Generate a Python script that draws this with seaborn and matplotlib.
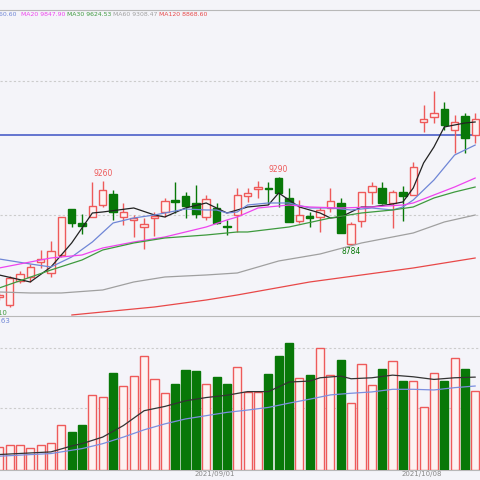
import numpy as np
import pandas as pd
import seaborn as sns
import matplotlib.pyplot as plt

# - Candles
opens = [8330, 8266, 8458, 8490, 8610, 8522, 8666, 9034, 8922, 8970, 9066, 9154, 8970, 8946, 8890, 8962,
         9010, 9106, 9138, 9082, 8970, 9042, 8898, 8986, 9138, 9194, 9202, 9282, 9122, 8938, 8978, 8970,
         9042, 9082, 8754, 8938, 9170, 9202, 9082, 9170, 9146, 9730, 9770, 9834, 9666, 9778, 9626]
highs = [8362, 8498, 8538, 8594, 8706, 8778, 8970, 9034, 8994, 9250, 9260, 9186, 9082, 8986, 8962, 9010,
         9122, 9250, 9170, 9226, 9146, 9082, 8946, 9202, 9202, 9258, 9250, 9290, 9202, 9106, 9010, 9050,
         9202, 9122, 8930, 9170, 9250, 9250, 9186, 9218, 9410, 9866, 9978, 9890, 9786, 9802, 9802]
lows = [8306, 8250, 8442, 8450, 8562, 8490, 8650, 8890, 8834, 8970, 9050, 8946, 8906, 8810, 8714, 8818,
        8970, 9002, 8962, 8962, 8946, 8914, 8826, 8850, 9090, 9122, 9074, 9050, 8930, 8922, 8890, 8850,
        9010, 8842, 8746, 8890, 9074, 9074, 8882, 8938, 9146, 9650, 9722, 9666, 9482, 9482, 9562]
closes = [8346, 8482, 8514, 8570, 8634, 8698, 8970, 8922, 8898, 9058, 9186, 9010, 9010, 8962, 8914, 8978,
          9098, 9090, 9058, 8994, 9114, 8922, 8890, 9146, 9162, 9210, 9194, 9162, 8930, 8986, 8962, 9026,
          9098, 8842, 8914, 9170, 9218, 9082, 9170, 9138, 9370, 9754, 9802, 9706, 9730, 9602, 9754]
volumes = [70, 75, 75, 67, 75, 82, 137, 114, 138, 227, 221, 293, 255, 285, 347, 275, 234, 262, 304, 302,
           260, 282, 260, 313, 238, 238, 292, 346, 387, 279, 288, 370, 289, 335, 203, 323, 259, 308, 331,
           270, 270, 190, 295, 270, 341, 308, 239]

# - Moving averages (index, value)
ma5_idx = [0, 3, 5, 7, 9, 10, 13, 15, 16, 18, 20, 22, 23, 24, 26, 27, 29, 31, 32, 33, 35, 36, 38, 39, 40, 41, 42, 43, 45, 46]
ma5_val = [8506, 8450, 8570, 8762, 9002, 9010, 9042, 8986, 8970, 9042, 9082, 9002, 9026, 9050, 9066, 9162, 9050, 9002,
           8962, 8970, 9050, 9050, 9074, 9090, 9202, 9402, 9530, 9690, 9722, 9730]
ma10_idx = [0, 3, 5, 7, 9, 11, 13, 15, 18, 20, 21, 22, 23, 24, 26, 28, 30, 32, 34, 36, 38, 39, 40, 42, 44, 46]
ma10_val = [8634, 8594, 8570, 8650, 8770, 8922, 8962, 8986, 9034, 9026, 9026, 9002, 9010, 9066, 9082, 9082, 9042,
            9042, 9026, 9042, 9026, 9050, 9106, 9266, 9466, 9546]
ma20_idx = [0, 5, 8, 10, 13, 16, 20, 22, 23, 25, 28, 30, 33, 36, 39, 40, 42, 44, 46]
ma20_val = [8562, 8642, 8666, 8722, 8770, 8810, 8890, 8946, 8970, 9042, 9066, 9050, 9042, 9050, 9066, 9082, 9146, 9210, 9282]
ma30_idx = [0, 5, 8, 10, 13, 16, 20, 23, 24, 28, 32, 35, 38, 40, 42, 44, 46]
ma30_val = [8402, 8546, 8626, 8706, 8762, 8802, 8826, 8850, 8850, 8890, 8962, 9002, 9026, 9050, 9122, 9170, 9210]
ma60_idx = [0, 3, 6, 10, 13, 16, 20, 23, 27, 31, 35, 40, 43, 46]
ma60_val = [8370, 8362, 8362, 8386, 8450, 8490, 8506, 8522, 8618, 8674, 8762, 8842, 8930, 8986]
ma120_idx = [7, 10, 15, 20, 23, 30, 40, 46]
ma120_val = [8186, 8210, 8250, 8306, 8346, 8450, 8562, 8642]

vma5_idx = [0, 5, 7, 8, 10, 12, 14, 16, 18, 20, 22, 24, 26, 28, 30, 31, 33, 34, 36, 38, 40, 42, 44, 46]
vma5_val = [47, 55, 73, 80, 100, 135, 180, 193, 210, 220, 227, 238, 238, 267, 270, 280, 285, 277, 280, 288, 283, 275, 280, 282]
vma10_idx = [0, 5, 8, 10, 12, 14, 16, 18, 20, 22, 24, 26, 28, 30, 32, 34, 36, 38, 40, 42, 44, 46]
vma10_val = [42, 50, 65, 80, 100, 122, 140, 155, 165, 175, 182, 190, 203, 215, 228, 233, 237, 245, 245, 243, 250, 255]

legend_texts = ['MA10 9960.60', 'MA20 9847.90', 'MA30 9624.53', 'MA60 9308.47', 'MA120 8868.60']
date_labels = {19: '2021/09/01', 39: '2021/10/08'}

RED, GREEN, BG = '#ee5a5a', '#087808', '#f4f4f9'

sns.set_style('white')
fig = plt.figure(figsize=(4.8, 4.8), dpi=100, facecolor=BG)
ax = fig.add_axes([0, 0.3417, 1, 0.6375], facecolor=BG)
axv = fig.add_axes([0, 0.0208, 1, 0.2917], facecolor=BG)

df = pd.DataFrame(dict(o=opens, h=highs, l=lows, c=closes, v=volumes))
df['i'] = np.arange(len(df))
up = df['c'] >= df['o']

# - Candles
for sub, col, face in [(df[up], RED, '#fdf2f2'), (df[~up], GREEN, GREEN)]:
    lo = sub[['o', 'c']].min(axis=1)
    hi = sub[['o', 'c']].max(axis=1)
    ax.vlines(sub['i'], sub['l'], lo, color=col, lw=1, zorder=2)
    ax.vlines(sub['i'], hi, sub['h'], color=col, lw=1, zorder=2)
    ax.bar(sub['i'], np.maximum(hi - lo, 6), bottom=lo, width=0.72, color=face, edgecolor=col, lw=1, zorder=3)
    axv.bar(sub['i'], sub['v'], width=0.78, color=face, edgecolor=col, lw=1, zorder=3)

for idx, val, col in [(ma5_idx, ma5_val, '#222222'), (ma10_idx, ma10_val, '#6f86d6'), (ma20_idx, ma20_val, '#ee44ee'),
                      (ma30_idx, ma30_val, '#3e9a3e'), (ma60_idx, ma60_val, '#a0a0a0'), (ma120_idx, ma120_val, '#e84848')]:
    sns.lineplot(x=idx, y=val, color=col, lw=0.9, ax=ax, zorder=4)

for idx, val, col in [(vma5_idx, vma5_val, '#333333'), (vma10_idx, vma10_val, '#7b8fe0')]:
    sns.lineplot(x=idx, y=val, color=col, lw=0.9, ax=axv, zorder=4)

ax.axhline(9626, color='#4a5fc8', lw=1.2, zorder=1)
for g in [10058, 8986]:
    ax.axhline(g, color='#cccccc', lw=0.8, ls=(0, (2, 2)), zorder=0)
for g in [370, 187]:
    axv.axhline(g, color='#cccccc', lw=0.8, ls=(0, (2, 2)), zorder=0)

ax.text(10, 9285, '9260', color=RED, fontsize=5.5, ha='center', va='bottom')
ax.text(27, 9315, '9290', color=RED, fontsize=5.5, ha='center', va='bottom')
ax.text(34, 8730, '8784', color=GREEN, fontsize=5.5, ha='center', va='top')

ax.set_xlim(0.077, 46.45)
ax.set_ylim(8178, 10626)
axv.set_xlim(0.077, 46.45)
axv.set_ylim(0, 425)
for a in (ax, axv):
    a.set_xticks([])
    a.set_yticks([])
    for s in ['left', 'right']:
        a.spines[s].set_visible(False)
    for s in ['top', 'bottom']:
        a.spines[s].set_color('#b8b8b8')
        a.spines[s].set_linewidth(0.8)
axv.spines['top'].set_visible(False)

# - Legend row
xs = [16, 21, 67, 113, 159]
cols = ['#6f86d6', '#ee44ee', '#3e9a3e', '#a0a0a0', '#e84848']
for k, (t, c) in enumerate(zip(legend_texts, cols)):
    fig.text(xs[k] / 480, 1 - 14 / 480, t, color=c, fontsize=4.4, va='center', ha='right' if k == 0 else 'left')

fig.text(7 / 480, 1 - 313 / 480, '8410', color='#3e9a3e', fontsize=5, ha='right', va='center')
fig.text(10 / 480, 1 - 321 / 480, '8455.63', color='#6f86d6', fontsize=5, ha='right', va='center')

for i, t in date_labels.items():
    axv.text(i - 0.1, -2, t, color='#888888', fontsize=5, ha='left', va='top', clip_on=False)
axv.text(0.1, -2, '2', color='#888888', fontsize=5, ha='right', va='top', clip_on=False)

plt.savefig('out.png', dpi=100, facecolor=BG)
